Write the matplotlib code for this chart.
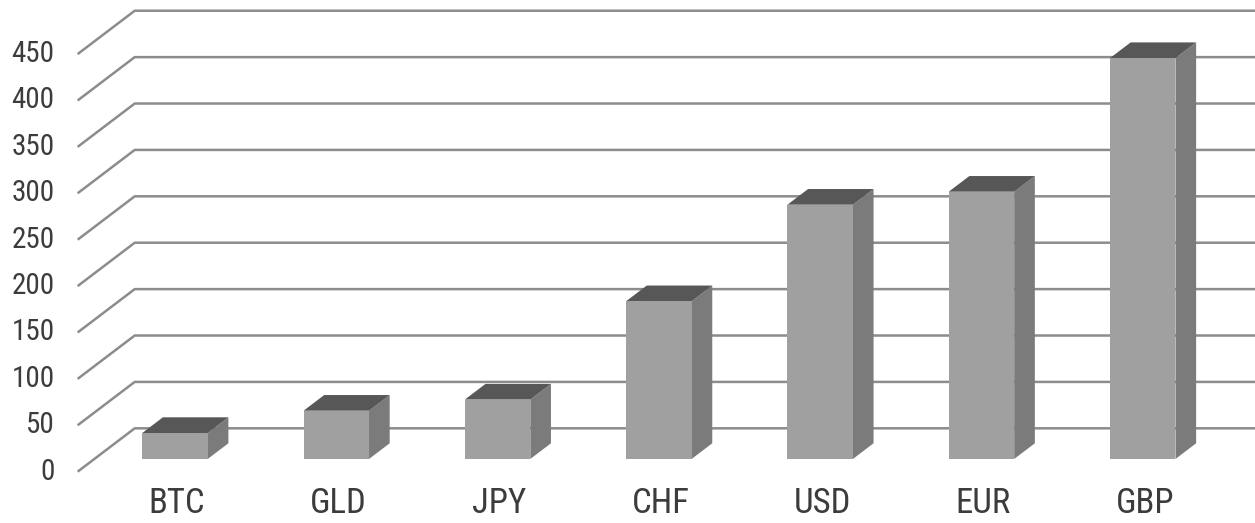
import matplotlib
matplotlib.use('Agg')
import matplotlib.pyplot as plt
from matplotlib import font_manager
from matplotlib.patches import Polygon

# Data
currencies = ['BTC', 'GLD', 'JPY', 'CHF', 'USD', 'EUR', 'GBP']
values = [28, 52, 64, 170, 274, 288, 432]
y_ticks = [0, 50, 100, 150, 200, 250, 300, 350, 400, 450]

# Pick a narrow font if one is installed
installed = {f.name for f in font_manager.fontManager.ttflist}
font_pref = ['Roboto Condensed', 'Liberation Sans Narrow', 'DejaVu Sans Condensed', 'DejaVu Sans']
fonts = [f for f in font_pref if f in installed] or ['DejaVu Sans']
plt.rcParams['font.family'] = fonts

FRONT = '#a0a0a0'
SIDE = '#7b7b7b'
TOP = '#575757'
GRID = '#8c8c8c'
TEXT = '#3c3c3c'

# fake 3D: depth direction in data units (x in categories, y in value units)
dx, dy = 0.128, 16.9
half_w = 0.203
t_front, t_back = -0.81, 1.955
left = -0.5

fig = plt.figure(figsize=(12.55, 5.23), dpi=100)
ax = fig.add_axes([0, 0, 1, 1])
ax.set_xlim(-1.085, 6.696)
ax.set_ylim(-69.0, 494.6)
ax.axis('off')

xmax = ax.get_xlim()[1] + 0.5

# gridlines: floor diagonal then along back wall
for v in y_ticks:
    x0, y0 = left + t_front * dx, v + t_front * dy
    x1, y1 = left + t_back * dx, v + t_back * dy
    ax.plot([x0, x1, xmax], [y0, y1, y1], color=GRID, lw=1.8,
            solid_capstyle='butt', zorder=1)
    ax.annotate(str(v), (x0, y0), xytext=(-23, 0), textcoords='offset pixels',
                ha='right', va='center', fontsize=21, color=TEXT)

# bars
for i, (name, v) in enumerate(zip(currencies, values)):
    l, r = i - half_w, i + half_w
    front = [(l, 0), (r, 0), (r, v), (l, v)]
    side = [(r, 0), (r + dx, dy), (r + dx, v + dy), (r, v)]
    top = [(l, v), (r, v), (r + dx, v + dy), (l + dx, v + dy)]
    ax.add_patch(Polygon(side, closed=True, fc=SIDE, ec='none', zorder=3))
    ax.add_patch(Polygon(top, closed=True, fc=TOP, ec='none', zorder=3))
    ax.add_patch(Polygon(front, closed=True, fc=FRONT, ec='none', zorder=4))
    ax.annotate(name, (i, 0), xytext=(2, -45), textcoords='offset pixels',
                ha='center', va='center', fontsize=25, color=TEXT)

fig.savefig('out.png', dpi=100)
